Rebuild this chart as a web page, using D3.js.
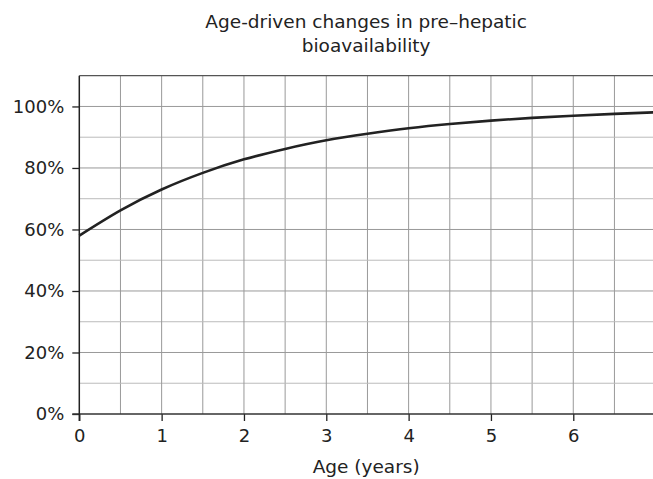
<!DOCTYPE html>
<html><head><meta charset="utf-8">
<script src="https://cdn.jsdelivr.net/npm/d3@7"></script>
<style>body{margin:0;background:#fff;} svg{display:block;} text{font-family:"DejaVu Sans",sans-serif;fill:#222;}</style>
</head><body>
<svg id="c" width="653" height="479"></svg>
<script>
const ages = [0, 0.5, 1, 1.5, 2, 2.5, 3, 3.5, 4, 4.5, 5, 5.5, 6, 6.5, 7];
const bioavailability = [58, 66.2, 73, 78.4, 82.8, 86.2, 89, 91.1, 92.9, 94.3, 95.4, 96.3, 97, 97.6, 98.1];
const xTicks = [0, 1, 2, 3, 4, 5, 6];
const yTicks = [0, 20, 40, 60, 80, 100];
const xMinor = [0.5, 1.5, 2.5, 3.5, 4.5, 5.5, 6.5];
const yMinor = [10, 30, 50, 70, 90];
const titleLines = ["Age-driven changes in pre\u2013hepatic", "bioavailability"];
const xLabel = "Age (years)";

const svg = d3.select("#c");
const L = 79.3, T = 75.7, B = 414;
const x = d3.scaleLinear().domain([0, 7]).range([L, L + 7 * 82.33]);
const y = d3.scaleLinear().domain([0, 110]).range([B, T]);
const W = 653;

const g = svg.append("g");
g.selectAll(".vmin").data(xMinor).join("line").attr("x1", d => x(d)).attr("x2", d => x(d)).attr("y1", T).attr("y2", B).attr("stroke", "#999").attr("stroke-width", 1);
g.selectAll(".hmin").data(yMinor).join("line").attr("x1", L).attr("x2", W).attr("y1", d => y(d)).attr("y2", d => y(d)).attr("stroke", "#bbb").attr("stroke-width", 1);
g.selectAll(".vmaj").data(xTicks.slice(1)).join("line").attr("x1", d => x(d)).attr("x2", d => x(d)).attr("y1", T).attr("y2", B).attr("stroke", "#999").attr("stroke-width", 1);
g.selectAll(".hmaj").data(yTicks.slice(1)).join("line").attr("x1", L).attr("x2", W).attr("y1", d => y(d)).attr("y2", d => y(d)).attr("stroke", "#999").attr("stroke-width", 1);
g.append("line").attr("x1", L).attr("x2", W).attr("y1", T).attr("y2", T).attr("stroke", "#555").attr("stroke-width", 1.2);

const xAxis = d3.axisBottom(x).tickValues(xTicks).tickSize(7).tickSizeOuter(0).tickPadding(8).tickFormat(d3.format("d"));
const yAxis = d3.axisLeft(y).tickValues(yTicks).tickSize(7).tickSizeOuter(0).tickPadding(8).tickFormat(d => d + "%");
const gx = svg.append("g").attr("transform", `translate(0,${B})`).call(xAxis);
const gy = svg.append("g").attr("transform", `translate(${L},0)`).call(yAxis);
[gx, gy].forEach(a => {
  a.select(".domain").remove();
  a.selectAll(".tick line").attr("stroke", "#222").attr("stroke-width", 1.3);
  a.selectAll(".tick text").style("font-size", "18px").attr("fill", "#222");
});
svg.append("line").attr("x1", L - 7).attr("x2", W).attr("y1", B).attr("y2", B).attr("stroke", "#333").attr("stroke-width", 1.5);
svg.append("line").attr("x1", L).attr("x2", L).attr("y1", T).attr("y2", B + 7).attr("stroke", "#222").attr("stroke-width", 1.5);

const line = d3.line().x((d, i) => x(ages[i])).y(d => y(d)).curve(d3.curveNatural);
svg.append("path").datum(bioavailability).attr("d", line).attr("fill", "none").attr("stroke", "#222").attr("stroke-width", 2.6);

const cx = (L + W) / 2;
svg.append("text").attr("x", cx).attr("y", 28).attr("text-anchor", "middle").style("font-size", "18.5px").text(titleLines[0]);
svg.append("text").attr("x", cx).attr("y", 52).attr("text-anchor", "middle").style("font-size", "18.5px").text(titleLines[1]);
svg.append("text").attr("x", cx).attr("y", 473).attr("text-anchor", "middle").style("font-size", "18.5px").text(xLabel);
</script>
</body></html>
